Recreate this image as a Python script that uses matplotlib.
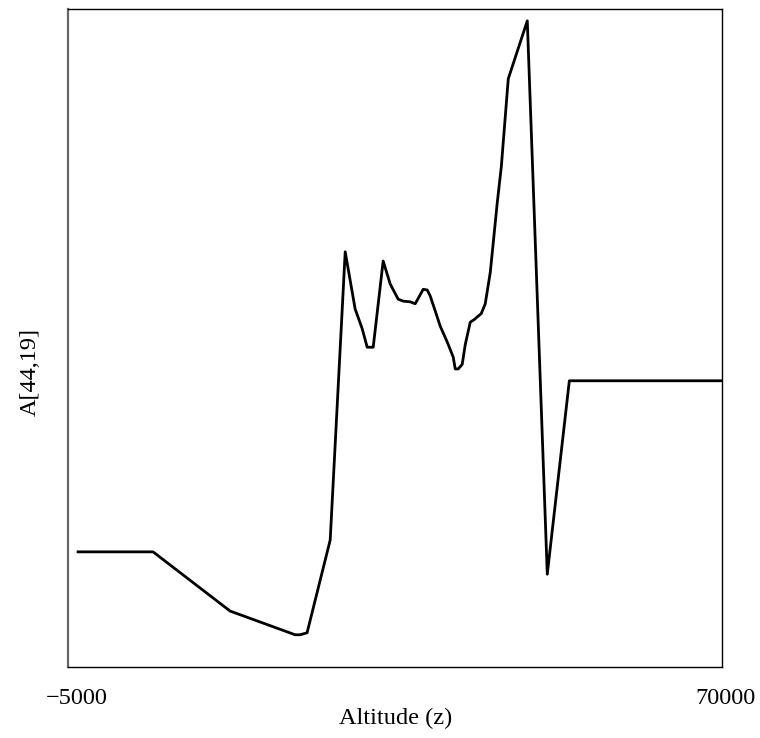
import matplotlib
matplotlib.use("Agg")
import matplotlib.pyplot as plt
from matplotlib.transforms import ScaledTranslation

altitude = [-3850, 4750, 13580, 21030, 21600, 22400, 25050, 26770, 27910, 28720,
            29290, 29980, 31120, 31930, 32840, 33420, 34220, 34790, 35250, 35710,
            36170, 36510, 37090, 37660, 38460, 39150, 39380, 39720, 40180, 40530,
            41100, 41560, 41900, 42360, 42820, 43400, 44200, 44660, 45460, 47640,
            49930, 52460, 70000]
values = [0.175, 0.175, 0.085, 0.049, 0.049, 0.052, 0.193, 0.631, 0.544, 0.514,
          0.486, 0.486, 0.617, 0.582, 0.559, 0.556, 0.555, 0.552, 0.563, 0.574,
          0.573, 0.564, 0.541, 0.518, 0.494, 0.471, 0.453, 0.453, 0.460, 0.490,
          0.524, 0.528, 0.532, 0.537, 0.552, 0.600, 0.706, 0.760, 0.894, 0.982,
          0.141, 0.435, 0.435]

xticks = [-5000, 70000]

plt.rcParams['font.family'] = ['Liberation Serif', 'DejaVu Serif']

fig = plt.figure(figsize=(7.6, 7.38), dpi=100)
ax = fig.add_axes([0.0895, 0.0962, 0.861, 0.8916])
ax.plot(altitude, values, color='black', linewidth=2.0, solid_joinstyle='round')
ax.set_xlim(-5000, 70000)
ax.set_ylim(0, 1)
ax.set_xticks(xticks)
ax.set_xticklabels([f"{t:d}".replace('-', '\u2212') for t in xticks], fontsize=17.5)
ax.tick_params(axis='x', length=0, pad=15)
shifts = [9, 3]
for lab, dx in zip(ax.get_xticklabels(), shifts):
    lab.set_transform(lab.get_transform() + ScaledTranslation(dx / 100, 0, fig.dpi_scale_trans))
ax.set_yticks([])
ax.set_xlabel('Altitude (z)', fontsize=17.5, labelpad=-1)
ax.set_ylabel('A[44,19]', fontsize=17.5)
ax.yaxis.set_label_coords(-0.042, 0.448)
for name, s in ax.spines.items():
    s.set_color('black')
    s.set_linewidth(1.0)
ax.spines['left'].set_color('#666666')
ax.spines['left'].set_linewidth(1.6)

fig.savefig('out.png', dpi=100)
